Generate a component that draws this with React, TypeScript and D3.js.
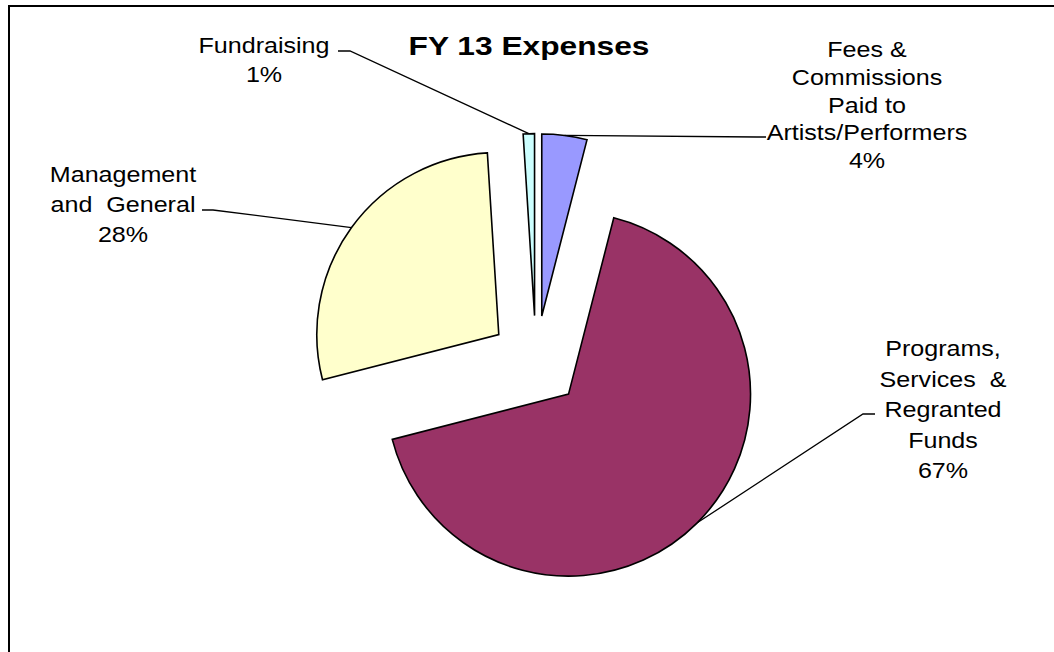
import React from "react";
import * as d3 from "d3";

const categories = [
  "Fees & Commissions Paid to Artists/Performers",
  "Programs, Services & Regranted Funds",
  "Management and General",
  "Fundraising",
];
const values = [4, 67, 28, 1];
const labelLines = [
  ["Fees &", "Commissions", "Paid to", "Artists/Performers", "4%"],
  ["Programs,", "Services  &", "Regranted", "Funds", "67%"],
  ["Management", "and  General", "28%"],
  ["Fundraising", "1%"],
];
const colors = ["#9999FF", "#993366", "#FFFFCC", "#CCFFFF"];
const title = "FY 13 Expenses";

// layout
const W = 1054, H = 652;
const cx = 536, cy = 361.6, R = 182, explode = 46;
const labelLayout = [
  { x: 867, y0: 57, dy: 27.8, leader: [[757, 137], [766, 137]], fromArc: true },
  { x: 943, y0: 356, dy: 30.5, leader: [[863, 414], [875, 414]], fromArc: true },
  { x: 123, y0: 182, dy: 30, leader: [[202, 210], [213, 210]], fromArc: false },
  { x: 264, y0: 53, dy: 29, leader: [[338, 51], [350, 51]], fromArc: false },
];

export default function App() {
  const pie = d3.pie<number>().sort(null).value((d) => d).startAngle(0).endAngle(2 * Math.PI);
  const arcs = pie(values);
  const arcGen = d3.arc<d3.PieArcDatum<number>>().innerRadius(0).outerRadius(R);
  const line = d3.line();

  return (
    <svg width={W} height={H} style={{ position: "absolute", left: 0, top: 0, background: "#fff" }}
      fontFamily="'Liberation Sans', Arial, sans-serif">
      <rect x={9} y={6} width={1100} height={700} fill="#fff" stroke="#000" strokeWidth={2} />
      {arcs.map((a, i) => {
        const mid = (a.startAngle + a.endAngle) / 2;
        const ox = cx + explode * Math.sin(mid);
        const oy = cy - explode * Math.cos(mid);
        const px = ox + R * Math.sin(mid);
        const py = oy - R * Math.cos(mid);
        const L = labelLayout[i];
        const pts: [number, number][] = L.fromArc
          ? [[px, py], L.leader[0] as [number, number], L.leader[1] as [number, number]]
          : [L.leader[0] as [number, number], L.leader[1] as [number, number], [px, py]];
        return (
          <g key={categories[i]}>
            <path d={line(pts) || ""} fill="none" stroke="#000" strokeWidth={1.3} />
            <path d={arcGen(a) || ""} transform={`translate(${ox},${oy})`} fill={colors[i]}
              stroke="#000" strokeWidth={1.6} strokeLinejoin="miter" />
          </g>
        );
      })}
      {labelLines.map((lines, i) => {
        const L = labelLayout[i];
        return (
          <g key={"l" + i}>
            {lines.map((t, j) => (
              <text key={j} transform={`translate(${L.x},${L.y0 + j * L.dy}) scale(1.14,1)`}
                textAnchor="middle" fontSize={22} fill="#000" style={{ whiteSpace: "pre" }}>
                {t}
              </text>
            ))}
          </g>
        );
      })}
      <text transform={`translate(529,55) scale(1.22,1)`} textAnchor="middle" fontSize={26}
        fontWeight="bold" fill="#000">{title}</text>
    </svg>
  );
}
